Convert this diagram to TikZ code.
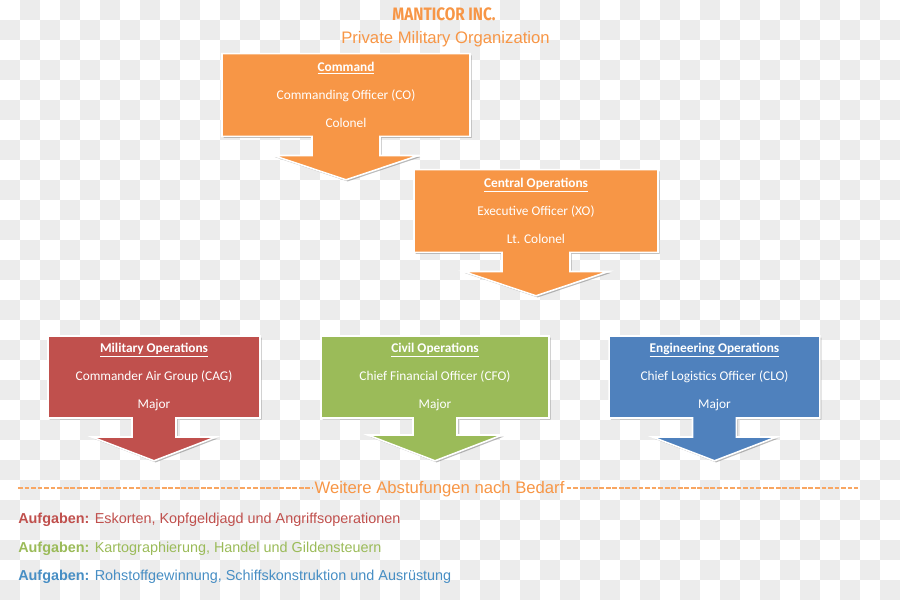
\documentclass[tikz,border=0pt]{standalone}
\usepackage{fontspec}
\setmainfont{Liberation Sans}
\newfontfamily\boxfont{Carlito}
\newfontfamily\titlefont[FakeStretch=0.85]{Fira Sans}
\usepackage{tikz}
\usetikzlibrary{positioning, shapes.arrows, shadows, calc}
\definecolor{MOrange}{HTML}{F79646}
\definecolor{MRed}{HTML}{C0504D}
\definecolor{MGreen}{HTML}{9BBB59}
\definecolor{MBlue}{HTML}{4F81BD}
\definecolor{MChecker}{HTML}{ECECEC}

\begin{document}
\begin{tikzpicture}[
  x=0.75pt, y=-0.75pt,
  rankbox/.style={arrow box, arrow box arrows={north:-1cm, east:-1cm, west:-1cm, south:31.5pt}, arrow box shaft width=33pt, arrow box head extend=30pt, arrow box tip angle=138, minimum width=159pt, minimum height=61.5pt, inner sep=0pt, text=white, align=center, font=\boxfont\fontsize{10}{21}\selectfont, draw=white, line width=1.2pt, drop shadow={shadow xshift=1.2pt, shadow yshift=-1.2pt, fill=black!60, opacity=0.45}},
  topbox/.style={rankbox, fill=MOrange, arrow box arrows={north:-1cm, east:-1cm, west:-1cm, south:32pt}, arrow box shaft width=51pt, arrow box head extend=29pt, arrow box tip angle=143, minimum height=62pt},
  taskhead/.style={font=\bfseries},
  tasktext/.style={anchor=base west, inner sep=0pt, font=\fontsize{10.8}{13}\selectfont},
  furtherline/.style={MOrange!85, line width=0.8pt, dash pattern=on 3.6pt off 1.3pt}
]
\useasboundingbox (0,0) rectangle (900,600);

% background checker
\foreach \i in {0,...,44}{
  \foreach \j in {0,...,29}{
    \pgfmathtruncatemacro\odd{mod(\i+\j,2)}
    \ifnum\odd=1 \fill[MChecker] (\i*20,\j*20) rectangle ++(20,20); \fi
  }
}

% Title
\node[anchor=base, text=MOrange, font=\titlefont\bfseries\fontsize{13.5}{16}\selectfont] (company) at (444,20) {MANTICOR INC.};
\node[anchor=base, text=MOrange, font=\fontsize{12.5}{15}\selectfont] (subtitle) at (445.5,43) {Private Military Organization};

% Row 1 + 2: Command, Central Operations
\node[topbox, minimum width=186pt] (command) at (346,95) {\underline{\textbf{Command}}\\Commanding Officer (CO)\\Colonel};
\node[topbox, minimum width=183pt] (central) at (536,211) {\underline{\textbf{Central Operations}}\\Executive Officer (XO)\\Lt. Colonel};

% Row 3: Operations
\node[rankbox, fill=MRed] (military) at (154,377) {\underline{\textbf{Military Operations}}\\Commander Air Group (CAG)\\Major};
\node[rankbox, fill=MGreen, minimum width=171pt, arrow box head extend=34pt] (civil) at (435,377) {\underline{\textbf{Civil Operations}}\\Chief Financial Officer (CFO)\\Major};
\node[rankbox, fill=MBlue, minimum width=158pt] (engineering) at (714.5,377) {\underline{\textbf{Engineering Operations}}\\Chief Logistics Officer (CLO)\\Major};

% Separator
\coordinate (dashL) at (18,488);
\coordinate (dashR) at (858,488);
\node[anchor=base, text=MOrange, inner xsep=1.5pt, font=\fontsize{12.5}{15}\selectfont] (further) at (439.5,493) {Weitere Abstufungen nach Bedarf};
\draw[furtherline] (dashL) -- (dashL -| further.west);
\draw[furtherline] (further.east |- dashR) -- (dashR);

% Tasks
\node[tasktext, text=MRed] (taskmil) at (18,523) {{\bfseries Aufgaben:} Eskorten, Kopfgeldjagd und Angriffsoperationen};
\node[tasktext, text=MGreen] (taskciv) at (18,552) {{\bfseries Aufgaben:} Kartographierung, Handel und Gildensteuern};
\node[tasktext, text=MBlue!90!cyan] (taskeng) at (18,580) {{\bfseries Aufgaben:} Rohstoffgewinnung, Schiffskonstruktion und Ausrüstung};

\end{tikzpicture}
\end{document}
